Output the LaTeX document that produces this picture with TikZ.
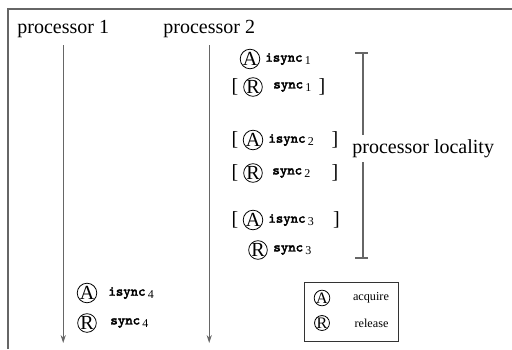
\documentclass[tikz,border=0pt]{standalone}
\usepackage{fontspec}
\setmainfont{Liberation Serif}
\setmonofont{Latin Modern Mono}[AutoFakeBold=2.5]
\usetikzlibrary{arrows.meta}

\newcommand{\opname}[2]{\texttt{\bfseries #1}\,\raisebox{-0.45ex}{\rmfamily\fontsize{6}{6}\selectfont #2}}

\begin{document}
\begin{tikzpicture}[x=5pt,y=5pt,
  rule/.style={black!60,line width=0.6pt},
  flow/.style={rule,-{Stealth[length=4pt,width=2.6pt]}},
  opcirc/.style={circle,draw,inner sep=0pt,minimum size=8pt,font=\fontsize{10}{10}\selectfont},
  keycirc/.style={circle,draw,inner sep=0pt,minimum size=6.5pt,font=\fontsize{8}{8}\selectfont},
  optext/.style={anchor=west,inner sep=0pt,font=\fontsize{7}{8}\selectfont},
  brk/.style={inner sep=0pt,font=\fontsize{10}{10}\selectfont},
  label10/.style={inner sep=0pt,font=\fontsize{10}{12}\selectfont}]
\useasboundingbox (0,0) rectangle (51.2,-34.9);
% frame
\draw[rule] (0.8,-34.9) -- (0.8,-0.9) -- (51.2,-0.9);
% processors
\node[label10,anchor=west] (proc1) at (1.7,-2.95) {processor 1};
\node[label10,anchor=west] (proc2) at (16.3,-2.95) {processor 2};
\coordinate (p1e) at (5.9,-34.3);
\coordinate (p2e) at (20.9,-34.3);
\draw[flow] ([yshift=-3.2pt]proc1.south) -- (proc1.south |- p1e);
\draw[flow] ([yshift=-3.2pt]proc2.south) -- (proc2.south |- p2e);
% processor 2 operations
\node[opcirc] (a1) at (25.0,-5.9) {A};
\node[optext] (a1t) at (26.5,-5.9) {\opname{isync}{1}};
\node[brk] (r1l) at (23.5,-8.7) {[};
\node[opcirc] (r1) at (25.3,-8.7) {R};
\node[optext] (r1t) at (27.3,-8.7) {\opname{sync}{1}};
\node[brk] (r1r) at (32.2,-8.7) {]};
\node[brk] (a2l) at (23.5,-14.0) {[};
\node[opcirc] (a2) at (25.3,-14.0) {A};
\node[optext] (a2t) at (26.8,-14.0) {\opname{isync}{2}};
\node[brk] (a2r) at (33.5,-14.0) {]};
\node[brk] (r2l) at (23.5,-17.3) {[};
\node[opcirc] (r2) at (25.3,-17.3) {R};
\node[optext] (r2t) at (27.2,-17.3) {\opname{sync}{2}};
\node[brk] (r2r) at (33.5,-17.3) {]};
\node[brk] (a3l) at (23.5,-22.0) {[};
\node[opcirc] (a3) at (25.3,-22.0) {A};
\node[optext] (a3t) at (26.8,-22.0) {\opname{isync}{3}};
\node[brk] (a3r) at (33.65,-22.0) {]};
\node[opcirc] (r3) at (25.8,-25.0) {R};
\node[optext] (r3t) at (27.3,-25.0) {\opname{sync}{3}};
% locality bracket
\coordinate (loctop) at (36.3,-5.3);
\coordinate (locbot) at (36.3,-25.8);
\node[label10,anchor=west,inner sep=2pt] (loc) at (34.8,-14.85) {processor locality};
\draw[rule] ([xshift=-4pt]loctop) -- ([xshift=2.5pt]loctop);
\draw[rule] ([xshift=-4pt]locbot) -- ([xshift=2.5pt]locbot);
\draw[rule] (loctop) -- (loc.north -| loctop);
\draw[rule] (loc.south -| locbot) -- (locbot);
% processor 1 operations
\node[opcirc] (a4) at (8.7,-29.3) {A};
\node[optext] (a4t) at (10.8,-29.3) {\opname{isync}{4}};
\node[opcirc] (r4) at (8.7,-32.3) {R};
\node[optext] (r4t) at (11.0,-32.3) {\opname{sync}{4}};
% key
\node[draw,black!80,line width=0.45pt,minimum width=47pt,minimum height=29.5pt,inner sep=0pt] (key) at (35.1,-31.15) {};
\node[keycirc] (ka) at (32.2,-29.8) {A};
\node[inner sep=0pt,font=\fontsize{6.1}{7}\selectfont] (kat) at (37.1,-29.8) {acquire};
\node[keycirc] (kr) at (32.2,-32.3) {R};
\node[inner sep=0pt,font=\fontsize{6.1}{7}\selectfont] (krt) at (37.15,-32.3) {release};
\end{tikzpicture}
\end{document}
